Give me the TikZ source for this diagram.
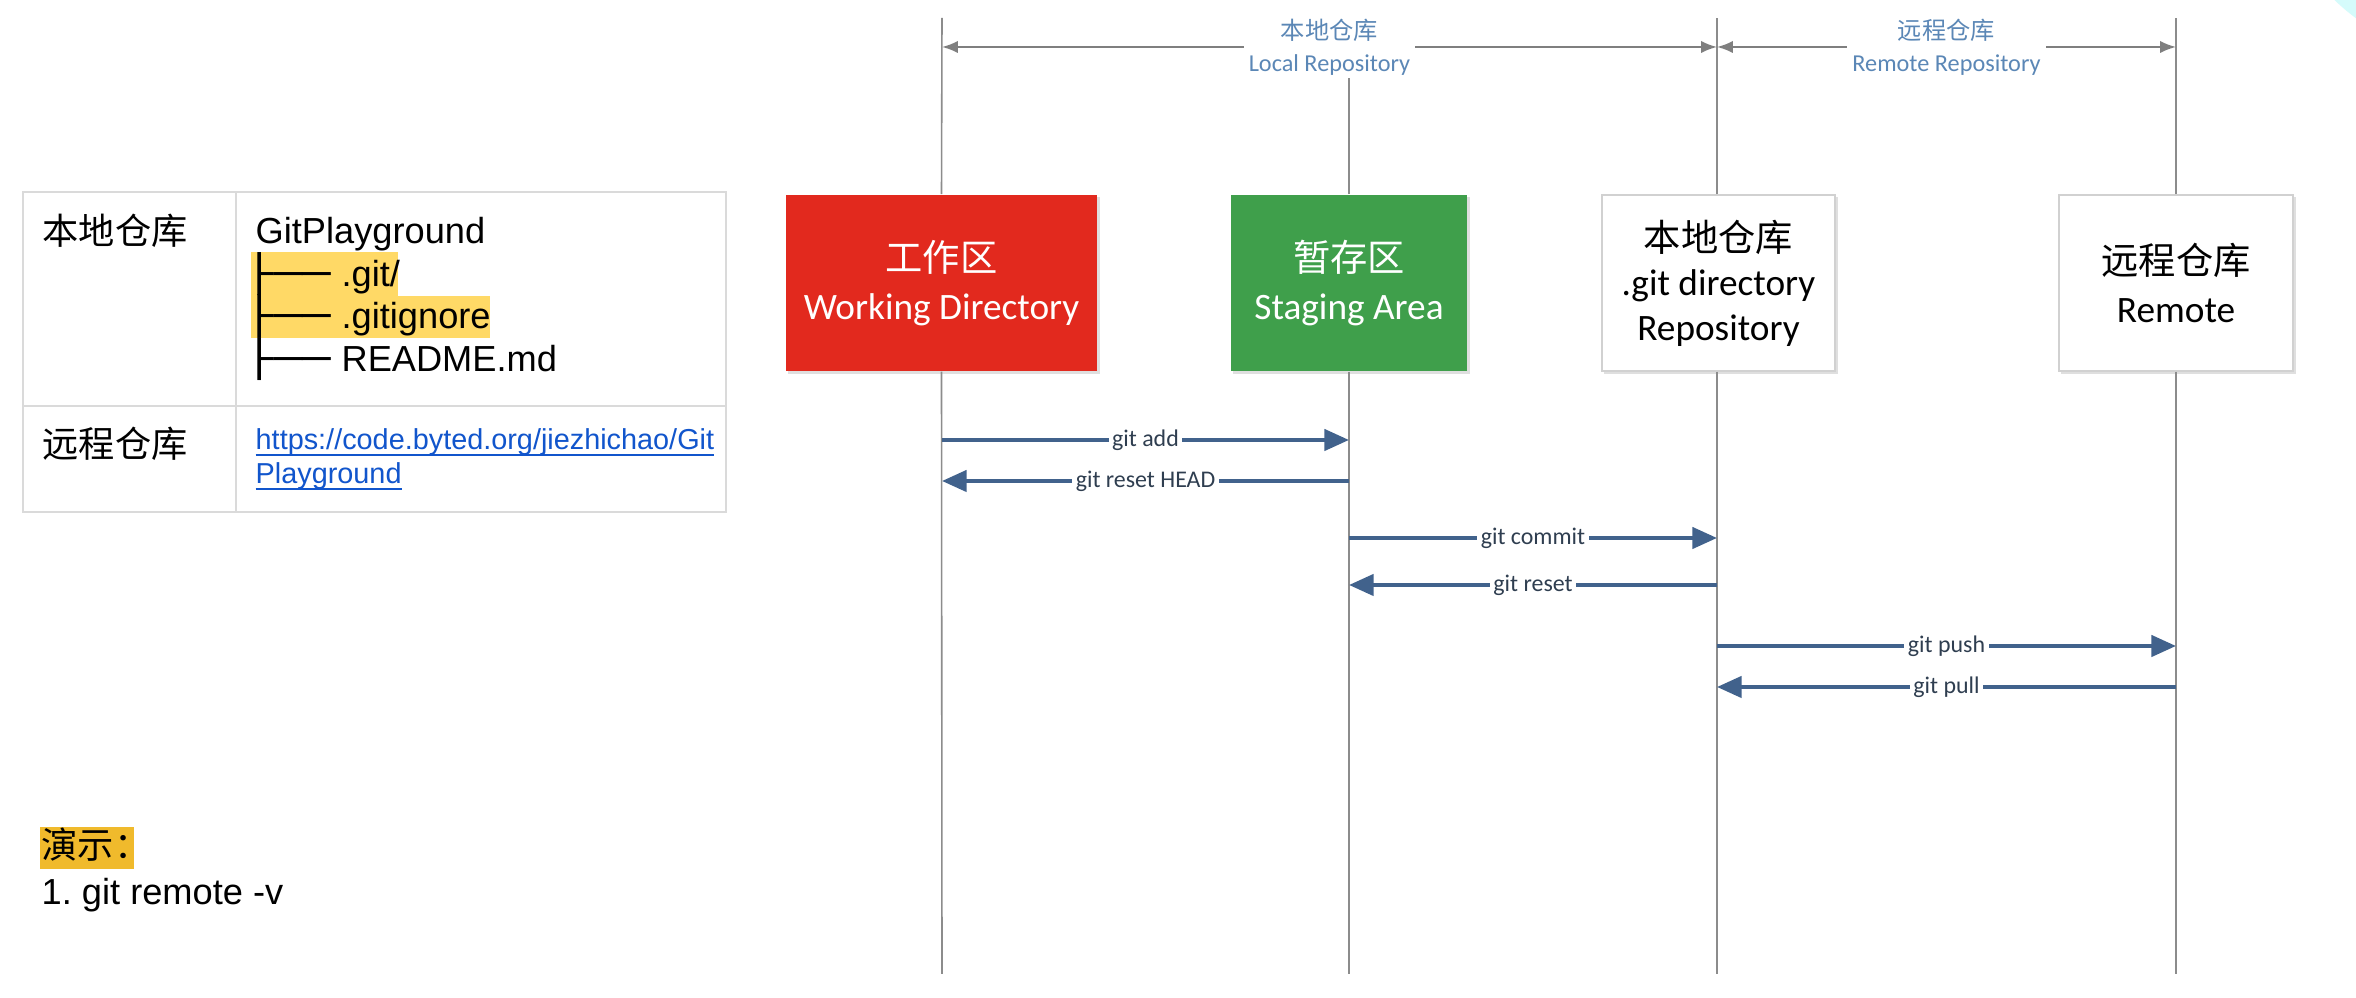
\documentclass[tikz,border=0pt]{standalone}
\usepackage{fontspec}
\usepackage{graphicx}
\setmainfont{Liberation Sans}
\newfontfamily\cjk{Noto Sans CJK SC}
\newfontfamily\calfont{Carlito}
\newfontfamily\djv{DejaVu Sans}
\usetikzlibrary{arrows.meta,shadows}
\definecolor{wdred}{HTML}{E2291E}
\definecolor{sagreen}{HTML}{3F9F4B}
\definecolor{lifegray}{HTML}{8C8C8C}
\definecolor{msgblue}{HTML}{41628C}
\definecolor{msgtext}{HTML}{2F3E50}
\definecolor{dimtext}{HTML}{5B87B6}
\definecolor{dimgray}{HTML}{7F7F7F}
\definecolor{hlA}{HTML}{FFD966}
\definecolor{hlB}{HTML}{F0BA2C}
\definecolor{linkblue}{HTML}{1155CC}
\definecolor{tblgray}{HTML}{DADADA}
\definecolor{cyanbg}{HTML}{D5FBFB}
\newcommand\treebr{{\djv\scalebox{1.3}[1]{├──}}\hspace{0.3em}}
\newcommand\lnk[1]{\underline{\smash{#1}}}
\frenchspacing
\begin{document}
\begin{tikzpicture}[x=0.01cm,y=-0.01cm,
  tx/.style={inner sep=0pt,anchor=base west,font=\fontsize{10.3pt}{12pt}\selectfont},
  link/.style={inner sep=0pt,anchor=base west,text=linkblue,font=\fontsize{8.2pt}{10pt}\selectfont},
  tbl/.style={draw=tblgray,line width=0.6pt},
  box/.style={rectangle,align=center,minimum height=1.76cm,inner sep=0pt,
    font=\calfont\fontsize{10.6pt}{13.7pt}\selectfont,
    drop shadow={shadow xshift=0.7pt,shadow yshift=-0.7pt,opacity=0.25}},
  wbox/.style={box,fill=white,draw=black!18,line width=0.4pt,text=black},
  life/.style={draw=lifegray,line width=0.45pt},
  dim/.style={draw=dimgray,line width=0.6pt,{Latex[length=4.5pt,width=3.5pt]}-{Latex[length=4.5pt,width=3.5pt]}},
  dimlbl/.style={fill=white,text=dimtext,align=center,inner xsep=1.5pt,inner ysep=1pt,
    font=\calfont\fontsize{6.9pt}{9pt}\selectfont},
  msg/.style={draw=msgblue,line width=1.15pt,-{Triangle[length=7pt,width=6pt]}},
  msglbl/.style={fill=white,text=msgtext,inner xsep=1pt,inner ysep=0.5pt,
    font=\calfont\fontsize{6.8pt}{8pt}\selectfont}
]
\useasboundingbox (0,0) rectangle (2356,998);
\fill[white] (0,0) rectangle (2356,998);
\begin{scope}
  \clip (0,0) rectangle (2356,998);
  \fill[cyanbg] (2480,-150) circle[radius=209];
\end{scope}

% ---- left table ----
\fill[hlA] (251,252) rectangle (398,296);
\fill[hlA] (251,296) rectangle (490,338);
\draw[tbl] (23,192) rectangle (726,512);
\draw[tbl] (236,192) -- (236,512);
\draw[tbl] (23,406) -- (726,406);
\node[tx] (t1) at (42,245) {\cjk 本地仓库};
\node[tx] (t2) at (255,244) {GitPlayground};
\node[tx] (t3) at (245,287) {\treebr .git/};
\node[tx] (t4) at (245,329) {\treebr .gitignore};
\node[tx] (t5) at (245,372) {\treebr README.md};
\node[tx] (t6) at (42,458) {\cjk 远程仓库};
\node[link] (u1) at (255,450) {\lnk{https://code.byted.org/jiezhichao/Git}};
\node[link] (u2) at (255,484) {\lnk{Playground}};

% ---- demo ----
\fill[hlB] (40,827) rectangle (134,869);
\node[tx] (d1) at (41,859) {\cjk 演示：};
\node[tx] (d2) at (41,905) {1. git remote -v};

% ---- lifeline ends ----
\coordinate (wdT) at (942,18);  \coordinate (wdB) at (942,974);
\coordinate (saT) at (1349,18); \coordinate (saB) at (1349,974);
\coordinate (lrT) at (1717,18); \coordinate (lrB) at (1717,974);
\coordinate (rmT) at (2176,18); \coordinate (rmB) at (2176,974);

% ---- boxes ----
\node[box,fill=wdred,text=white,minimum width=3.11cm] (wd) at (941.5,283)
  {{\cjk 工作区}\\Working Directory};
\node[box,fill=sagreen,text=white,minimum width=2.36cm] (sa) at (1349,283)
  {{\cjk 暂存区}\\Staging Area};
\node[wbox,minimum width=2.33cm,font=\calfont\fontsize{10.6pt}{12.7pt}\selectfont] (lr) at (1718.5,283)
  {{\cjk 本地仓库}\\.git directory\\Repository};
\node[wbox,minimum width=2.34cm] (rm) at (2176,283)
  {{\cjk 远程仓库}\\Remote};

% ---- lifelines ----
\draw[life] (wd.north) -- (wdT);  \draw[life] (wd.south) -- (wdB);
\draw[life] (sa.north) -- (saT);  \draw[life] (sa.south) -- (saB);
\draw[life] (lr.north -| lrT) -- (lrT);  \draw[life] (lr.south -| lrB) -- (lrB);
\draw[life] (rm.north) -- (rmT);  \draw[life] (rm.south) -- (rmB);

% ---- top dimension arrows ----
\coordinate (dimA) at (942,47);
\coordinate (dimB) at (1717,47);
\coordinate (dimC) at (2176,47);
\draw[dim] (dimA) -- (dimB) node[midway,dimlbl] (dl1) {{\cjk 本地仓库}\\Local Repository};
\draw[dim] (dimB) -- (dimC) node[midway,dimlbl] (dl2) {{\cjk 远程仓库}\\Remote Repository};

% ---- message arrows ----
\coordinate (w1) at (942,440);  \coordinate (s1) at (1349,440);
\coordinate (w2) at (942,481);  \coordinate (s2) at (1349,481);
\coordinate (s3) at (1349,538); \coordinate (l3) at (1717,538);
\coordinate (s4) at (1349,585); \coordinate (l4) at (1717,585);
\coordinate (l5) at (1717,646); \coordinate (r5) at (2176,646);
\coordinate (l6) at (1717,687); \coordinate (r6) at (2176,687);
\draw[msg] (w1) -- (s1) node[midway,msglbl] (m1) {git add};
\draw[msg] (s2) -- (w2) node[midway,msglbl] (m2) {git reset HEAD};
\draw[msg] (s3) -- (l3) node[midway,msglbl] (m3) {git commit};
\draw[msg] (l4) -- (s4) node[midway,msglbl] (m4) {git reset};
\draw[msg] (l5) -- (r5) node[midway,msglbl] (m5) {git push};
\draw[msg] (r6) -- (l6) node[midway,msglbl] (m6) {git pull};
\end{tikzpicture}
\end{document}
